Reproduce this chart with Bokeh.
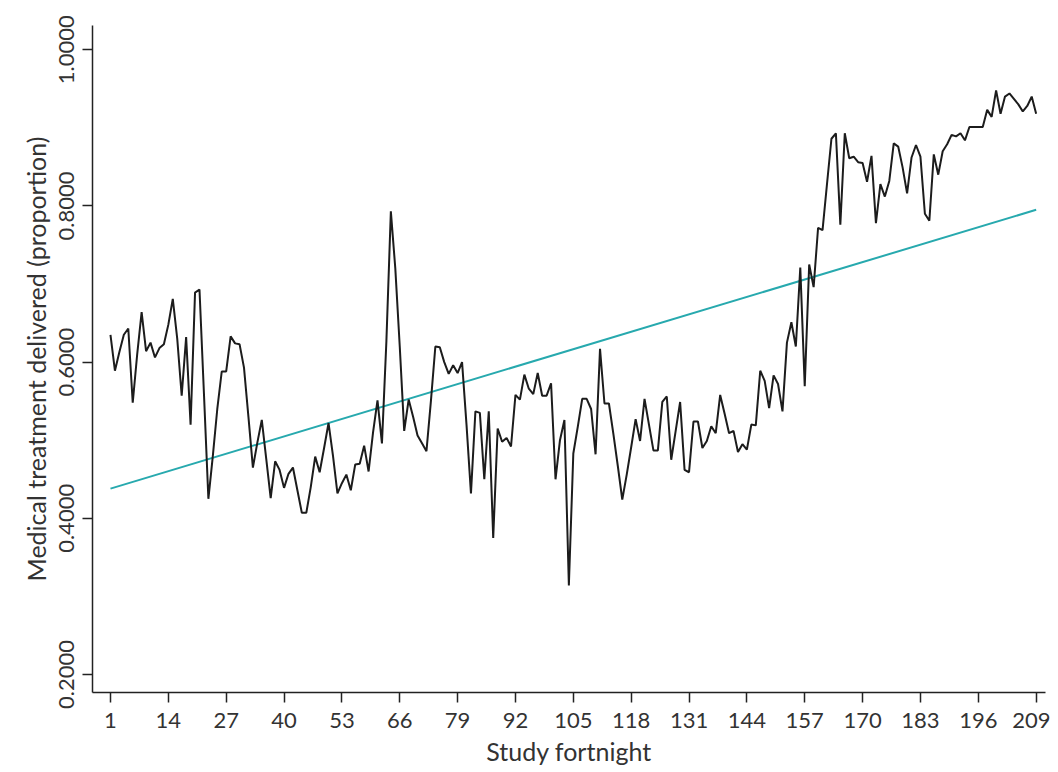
from bokeh.plotting import figure
from bokeh.embed import file_html
from bokeh.resources import INLINE
from bokeh.models import Range1d, FixedTicker, NumeralTickFormatter

fortnight = list(range(1, 210))
proportion = [
    0.635, 0.589, 0.613, 0.635, 0.643, 0.548, 0.610, 0.664, 0.614, 0.625,
    0.606, 0.618, 0.623, 0.648, 0.681, 0.630, 0.557, 0.632, 0.520, 0.689,
    0.693, 0.560, 0.425, 0.480, 0.540, 0.588, 0.588, 0.633, 0.624, 0.623,
    0.593, 0.530, 0.465, 0.497, 0.526, 0.476, 0.426, 0.473, 0.462, 0.439,
    0.457, 0.465, 0.436, 0.407, 0.407, 0.440, 0.479, 0.459, 0.490, 0.522,
    0.480, 0.432, 0.445, 0.456, 0.436, 0.469, 0.470, 0.493, 0.460, 0.510,
    0.551, 0.496, 0.627, 0.793, 0.720, 0.620, 0.512, 0.552, 0.530, 0.506,
    0.496, 0.486, 0.550, 0.620, 0.619, 0.600, 0.585, 0.596, 0.586, 0.600,
    0.520, 0.432, 0.537, 0.535, 0.450, 0.537, 0.375, 0.515, 0.498, 0.503,
    0.492, 0.558, 0.552, 0.584, 0.566, 0.559, 0.586, 0.557, 0.557, 0.573,
    0.450, 0.500, 0.526, 0.314, 0.483, 0.517, 0.553, 0.553, 0.540, 0.482,
    0.617, 0.547, 0.547, 0.508, 0.467, 0.424, 0.456, 0.491, 0.527, 0.499,
    0.553, 0.520, 0.487, 0.487, 0.549, 0.556, 0.475, 0.512, 0.549, 0.462,
    0.459, 0.524, 0.524, 0.490, 0.499, 0.518, 0.509, 0.558, 0.534, 0.509,
    0.512, 0.485, 0.495, 0.488, 0.520, 0.519, 0.589, 0.576, 0.541, 0.583,
    0.572, 0.537, 0.625, 0.651, 0.620, 0.721, 0.569, 0.725, 0.696, 0.772,
    0.769, 0.828, 0.886, 0.893, 0.776, 0.893, 0.861, 0.863, 0.856, 0.855,
    0.831, 0.864, 0.778, 0.828, 0.812, 0.832, 0.880, 0.876, 0.849, 0.816,
    0.862, 0.878, 0.863, 0.790, 0.781, 0.866, 0.840, 0.870, 0.879, 0.891,
    0.889, 0.893, 0.884, 0.901, 0.901, 0.901, 0.901, 0.923, 0.914, 0.948,
    0.918, 0.940, 0.944, 0.937, 0.930, 0.921, 0.928, 0.940, 0.918,
]

trend_x = [1, 209]
trend_y = [0.438, 0.795]

x_ticks = [1, 14, 27, 40, 53, 66, 79, 92, 105, 118, 131, 144, 157, 170, 183, 196, 209]
y_ticks = [0.2, 0.4, 0.6, 0.8, 1.0]

FONT = "Lato"
TXT = "#333333"

p = figure(width=1050, height=772, output_backend="svg", toolbar_location=None,
           x_range=Range1d(-3.04, 211.1), y_range=Range1d(0.177, 1.031),
           min_border_left=92, min_border_right=5, min_border_top=25,
           min_border_bottom=80)
p.outline_line_color = None
p.grid.visible = False
p.background_fill_color = "white"
p.border_fill_color = "white"

p.line(trend_x, trend_y, line_color="#27a9ae", line_width=2)
p.line(fortnight, proportion, line_color="#1c1c1c", line_width=2)

for ax in (p.xaxis[0], p.yaxis[0]):
    ax.axis_line_color = "#222222"
    ax.axis_line_width = 1.5
    ax.major_tick_line_color = "#222222"
    ax.major_tick_line_width = 1.5
    ax.major_tick_out = 10
    ax.major_tick_in = 0
    ax.minor_tick_line_color = None
    ax.major_label_text_font = FONT
    ax.major_label_text_font_size = "22px"
    ax.major_label_text_color = TXT
    ax.axis_label_text_font = FONT
    ax.axis_label_text_font_size = "25px"
    ax.axis_label_text_color = TXT
    ax.axis_label_text_font_style = "normal"

p.xaxis.ticker = FixedTicker(ticks=x_ticks)
p.yaxis.ticker = FixedTicker(ticks=y_ticks)
p.yaxis.formatter = NumeralTickFormatter(format="0.0000")
p.yaxis.major_label_orientation = "vertical"
p.xaxis.axis_label = "Study fortnight"
p.yaxis.axis_label = "Medical treatment delivered (proportion)"
p.xaxis.major_label_standoff = 10
p.xaxis.axis_label_standoff = 5
p.yaxis.major_label_standoff = 8
p.yaxis.axis_label_standoff = 6

open("out.html", "w").write(file_html(p, INLINE))
